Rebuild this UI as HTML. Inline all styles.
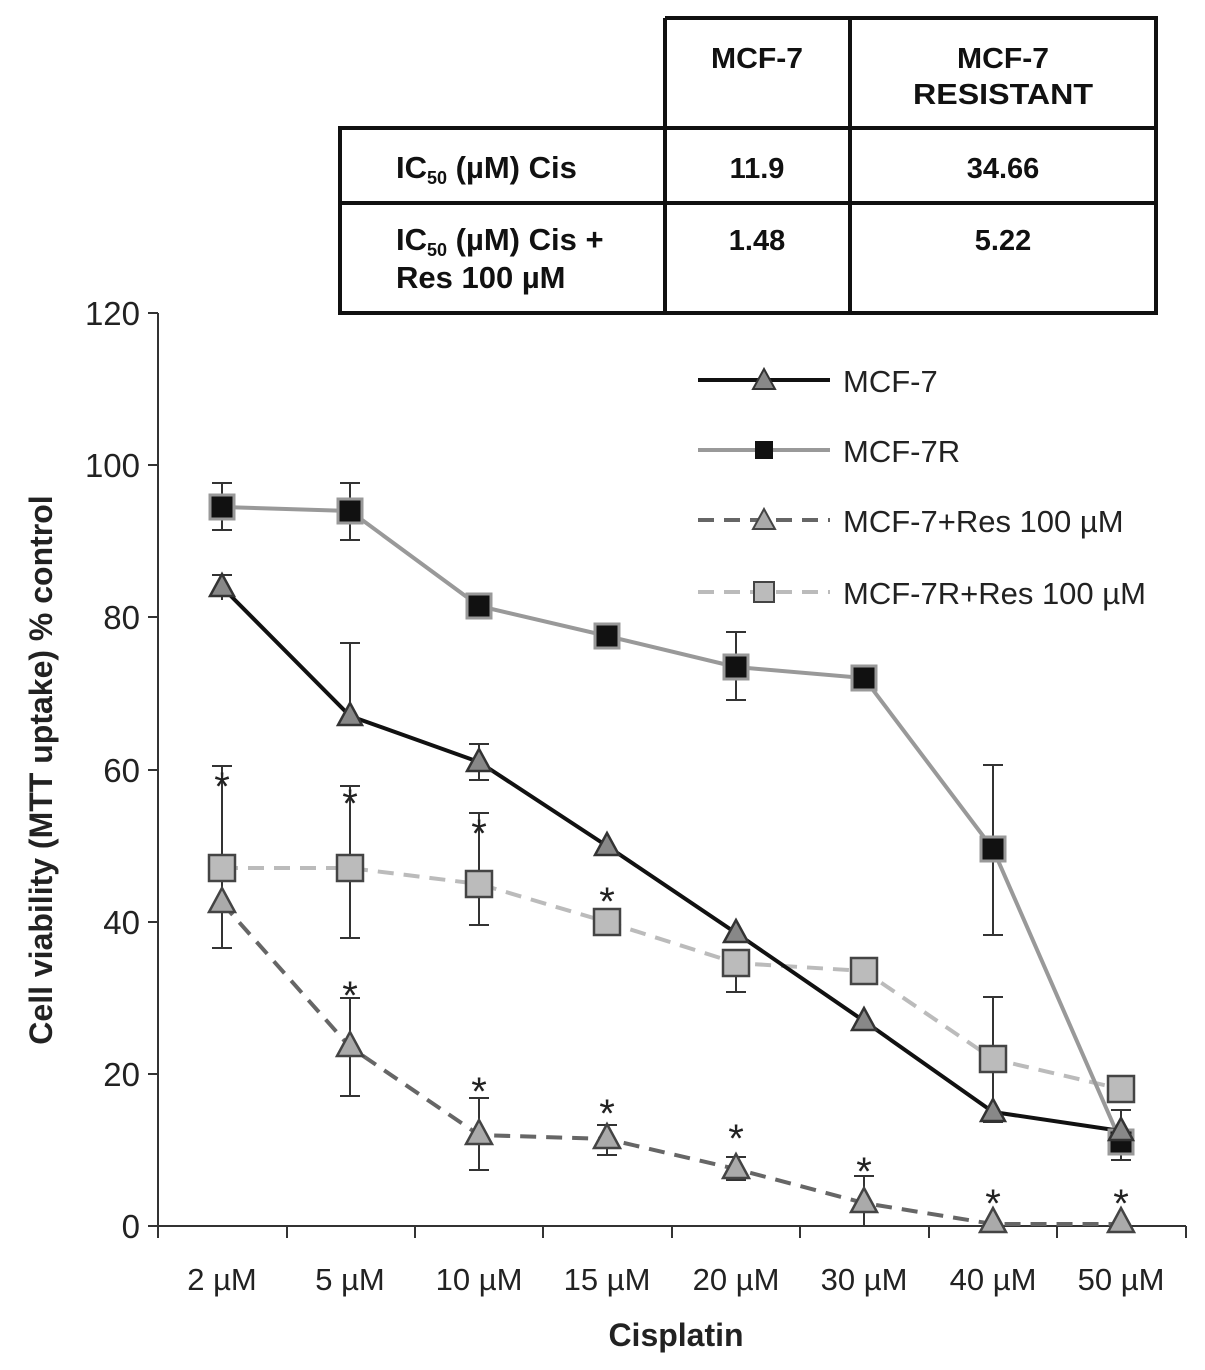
<!DOCTYPE html>
<html><head><style>body{margin:0;background:#fff}svg{display:block}</style></head><body>
<svg width="1205" height="1370" xmlns="http://www.w3.org/2000/svg" font-family="Liberation Sans, sans-serif">
<rect width="1205" height="1370" fill="#fff"/>
<!-- table -->
<g stroke="#111" stroke-width="4" fill="none">
<path d="M665,18 H1156 V313 H340 V128 H1156 M340,203 H1156 M665,18 V313 M850,18 V313"/>
</g>
<g font-weight="bold" fill="#111" font-size="29" text-anchor="middle">
<text x="757" y="68" textLength="92" lengthAdjust="spacingAndGlyphs">MCF-7</text>
<text x="1003" y="68" textLength="92" lengthAdjust="spacingAndGlyphs">MCF-7</text>
<text x="1003" y="104" textLength="180" lengthAdjust="spacingAndGlyphs">RESISTANT</text>
<text x="757" y="178">11.9</text>
<text x="1003" y="178">34.66</text>
<text x="757" y="250">1.48</text>
<text x="1003" y="250">5.22</text>
</g>
<g font-weight="bold" fill="#111" font-size="31">
<text x="396" y="178">IC<tspan font-size="18" dy="6">50</tspan><tspan dy="-6">   (µM) Cis</tspan></text>
<text x="396" y="250">IC<tspan font-size="18" dy="6">50</tspan><tspan dy="-6">  (µM) Cis +</tspan></text>
<text x="396" y="288">Res  100 µM</text>
</g>
<!-- axes -->
<g stroke="#333" stroke-width="2">
<line x1="158" y1="313" x2="158" y2="1226"/>
<line x1="158" y1="1226" x2="1186" y2="1226"/>
<line x1="148" y1="313" x2="158" y2="313"/><line x1="148" y1="465" x2="158" y2="465"/>
<line x1="148" y1="617" x2="158" y2="617"/><line x1="148" y1="770" x2="158" y2="770"/>
<line x1="148" y1="922" x2="158" y2="922"/><line x1="148" y1="1074" x2="158" y2="1074"/>
<line x1="148" y1="1226" x2="158" y2="1226"/>
<line x1="158" y1="1226" x2="158" y2="1238"/><line x1="287" y1="1226" x2="287" y2="1238"/>
<line x1="415" y1="1226" x2="415" y2="1238"/><line x1="543" y1="1226" x2="543" y2="1238"/>
<line x1="672" y1="1226" x2="672" y2="1238"/><line x1="800" y1="1226" x2="800" y2="1238"/>
<line x1="929" y1="1226" x2="929" y2="1238"/><line x1="1057" y1="1226" x2="1057" y2="1238"/>
<line x1="1186" y1="1226" x2="1186" y2="1238"/>
</g>
<g font-size="33" fill="#222" text-anchor="end">
<text x="140" y="325">120</text><text x="140" y="477">100</text><text x="140" y="629">80</text>
<text x="140" y="782">60</text><text x="140" y="934">40</text><text x="140" y="1086">20</text>
<text x="140" y="1238">0</text>
</g>
<g font-size="31" fill="#222" text-anchor="middle">
<text x="222" y="1290">2 µM</text><text x="350" y="1290">5 µM</text><text x="479" y="1290">10 µM</text>
<text x="607" y="1290">15 µM</text><text x="736" y="1290">20 µM</text><text x="864" y="1290">30 µM</text>
<text x="993" y="1290">40 µM</text><text x="1121" y="1290">50 µM</text>
</g>
<text x="676" y="1346" font-size="32" font-weight="bold" text-anchor="middle" fill="#222">Cisplatin</text>
<text transform="translate(52,770) rotate(-90)" font-size="32" font-weight="bold" text-anchor="middle" fill="#222">Cell viability  (MTT uptake) % control</text>
<!-- error bars -->
<g stroke="#333" stroke-width="2" fill="none">
<path d="M222,483V530M212,483H232M212,530H232
M350,483V540M340,483H360M340,540H360
M736,632V700M726,632H746M726,700H746
M993,765V935M983,765H1003M983,935H1003
M222,575V600M212,575H232
M350,643V718M340,643H360
M479,744V780M469,744H489M469,780H489
M222,766V948M212,766H232M212,948H232
M350,786V938M340,786H360M340,938H360
M479,813V925M469,813H489M469,925H489
M736,950V992M726,950H746M726,992H746
M993,997V1122M983,997H1003M983,1122H1003
M1121,1110V1160M1111,1110H1131M1111,1160H1131
M350,998V1096M340,998H360M340,1096H360
M479,1098V1170M469,1098H489M469,1170H489
M607,1125V1155M597,1125H617M597,1155H617
M736,1157V1180M726,1157H746M726,1180H746
M864,1176V1226M854,1176H874"/>
</g>
<!-- lines -->
<polyline fill="none" stroke="#bbb" stroke-width="4" stroke-dasharray="16,10" points="222,868 350,868 479,884 607,922 736,963 864,971 993,1059 1121,1089"/>
<polyline fill="none" stroke="#666" stroke-width="4" stroke-dasharray="16,10" points="222,903 350,1047 479,1135 607,1139 736,1169 864,1203 993,1224 1121,1224"/>
<polyline fill="none" stroke="#999" stroke-width="4" points="222,507 350,511 479,606 607,636 736,667 864,678 993,849 1121,1142"/>
<polyline fill="none" stroke="#111" stroke-width="4" points="222,587 350,716 479,762 607,846 736,933 864,1021 993,1112 1121,1131"/>
<!-- markers -->
<g fill="#bbb" stroke="#444" stroke-width="2.5">
<rect x="209" y="855" width="26" height="26"/><rect x="337" y="855" width="26" height="26"/>
<rect x="466" y="871" width="26" height="26"/><rect x="594" y="909" width="26" height="26"/>
<rect x="723" y="950" width="26" height="26"/><rect x="851" y="958" width="26" height="26"/>
<rect x="980" y="1046" width="26" height="26"/><rect x="1108" y="1076" width="26" height="26"/>
</g>
<g fill="#111" stroke="#999" stroke-width="3">
<rect x="210" y="495" width="24" height="24"/><rect x="338" y="499" width="24" height="24"/>
<rect x="467" y="594" width="24" height="24"/><rect x="595" y="624" width="24" height="24"/>
<rect x="724" y="655" width="24" height="24"/><rect x="852" y="666" width="24" height="24"/>
<rect x="981" y="837" width="24" height="24"/><rect x="1109" y="1130" width="24" height="24"/>
</g>
<g fill="#888" stroke="#333" stroke-width="2.5">
<path d="M222,574l-12,22h24z"/><path d="M350,703l-12,22h24z"/><path d="M479,749l-12,22h24z"/>
<path d="M607,833l-12,22h24z"/><path d="M736,920l-12,22h24z"/><path d="M864,1008l-12,22h24z"/>
<path d="M993,1099l-12,22h24z"/><path d="M1121,1118l-12,22h24z"/>
</g>
<g fill="#aaa" stroke="#444" stroke-width="2.5">
<path d="M222,888l-13,24h26z"/><path d="M350,1032l-13,24h26z"/><path d="M479,1120l-13,24h26z"/>
<path d="M607,1124l-13,24h26z"/><path d="M736,1154l-13,24h26z"/><path d="M864,1188l-13,24h26z"/>
<path d="M993,1208l-13,24h26z"/><path d="M1121,1208l-13,24h26z"/>
</g>
<!-- asterisks -->
<g font-size="40" fill="#222" text-anchor="middle">
<text x="222" y="800">*</text><text x="350" y="817">*</text><text x="479" y="847">*</text><text x="607" y="915">*</text>
<text x="350" y="1009">*</text><text x="479" y="1105">*</text><text x="607" y="1127">*</text><text x="736" y="1152">*</text>
<text x="864" y="1185">*</text><text x="993" y="1217">*</text><text x="1121" y="1217">*</text>
</g>
<!-- legend -->
<line x1="698" y1="380" x2="830" y2="380" stroke="#111" stroke-width="4"/>
<path d="M764,369l-11,20h22z" fill="#888" stroke="#333" stroke-width="2"/>
<line x1="698" y1="450" x2="830" y2="450" stroke="#999" stroke-width="4"/>
<rect x="755" y="441" width="18" height="18" fill="#111"/>
<line x1="698" y1="520" x2="830" y2="520" stroke="#666" stroke-width="4" stroke-dasharray="16,10"/>
<path d="M764,509l-11,20h22z" fill="#aaa" stroke="#444" stroke-width="2"/>
<line x1="698" y1="592" x2="830" y2="592" stroke="#bbb" stroke-width="4" stroke-dasharray="16,10"/>
<rect x="754" y="582" width="20" height="20" fill="#bbb" stroke="#444" stroke-width="2"/>
<g font-size="31" fill="#222">
<text x="843" y="392">MCF-7</text><text x="843" y="462">MCF-7R</text>
<text x="843" y="532">MCF-7+Res 100 µM</text><text x="843" y="604">MCF-7R+Res 100 µM</text>
</g>
</svg>
</body></html>
